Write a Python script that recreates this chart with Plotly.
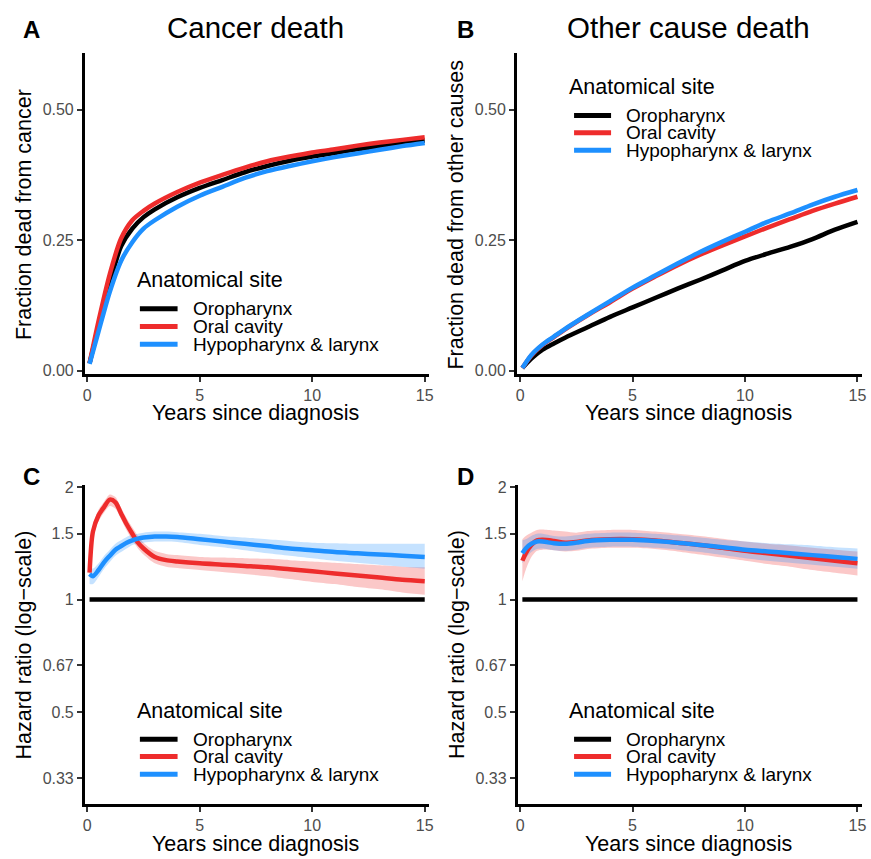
import plotly.graph_objects as go

W, H = 871, 859
FONT = "Liberation Sans, Arial, sans-serif"
BLACK, RED, BLUE = "#000000", "#EE2C2C", "#1E90FF"
RED_FILL, BLUE_FILL = "rgba(238,44,44,0.26)", "rgba(30,144,255,0.26)"

SITES = ["Oropharynx", "Oral cavity", "Hypopharynx & larynx"]
SITE_COLORS = [BLACK, RED, BLUE]

# ---------------- Panel A: cumulative incidence of cancer death ----------------
a_years = [0.1, 0.5, 1, 1.5, 2, 2.5, 3, 4, 5, 6, 7, 8, 9, 10, 11, 12, 13, 14, 15]
a_oro = [0.014, 0.085, 0.168, 0.238, 0.272, 0.294, 0.309, 0.332, 0.350, 0.365, 0.380,
         0.392, 0.402, 0.410, 0.417, 0.424, 0.430, 0.436, 0.441]
a_oral = [0.014, 0.095, 0.185, 0.253, 0.288, 0.306, 0.320, 0.342, 0.360, 0.375, 0.389,
          0.401, 0.410, 0.418, 0.424, 0.431, 0.437, 0.442, 0.447]
a_hypo = [0.013, 0.075, 0.151, 0.210, 0.246, 0.272, 0.288, 0.314, 0.335, 0.352, 0.369,
          0.382, 0.392, 0.401, 0.409, 0.416, 0.423, 0.430, 0.436]

# ---------------- Panel B: cumulative incidence of other cause death ----------------
b_years = [0.1, 0.5, 1, 1.5, 2, 3, 4, 5, 6, 7, 8, 9, 10, 11, 12, 13, 14, 15]
b_oro = [0.005, 0.023, 0.040, 0.052, 0.063, 0.083, 0.103, 0.121, 0.139, 0.157, 0.174,
         0.192, 0.210, 0.224, 0.237, 0.252, 0.270, 0.285]
b_oral = [0.005, 0.029, 0.049, 0.064, 0.079, 0.106, 0.131, 0.157, 0.180, 0.202, 0.222,
          0.240, 0.257, 0.274, 0.290, 0.306, 0.320, 0.333]
b_hypo = [0.005, 0.030, 0.050, 0.065, 0.080, 0.107, 0.133, 0.159, 0.182, 0.205, 0.227,
          0.247, 0.266, 0.285, 0.301, 0.318, 0.333, 0.346]

# ---------------- Panel C: hazard ratio, cancer death ----------------
c_years = [0.1, 0.25, 0.5, 0.75, 1.0, 1.25, 1.5, 1.75, 2.0, 2.25, 2.5, 3, 3.5, 4, 5,
           6, 7, 8, 9, 10, 11, 12, 13, 14, 15]
c_ref_years = [0.1, 15]
c_ref_hr = [1.0, 1.0]
c_oral = [1.18, 1.52, 1.68, 1.77, 1.85, 1.82, 1.70, 1.59, 1.50, 1.42, 1.37, 1.30, 1.275,
          1.265, 1.25, 1.24, 1.23, 1.22, 1.205, 1.19, 1.175, 1.16, 1.145, 1.13, 1.12]
c_oral_lo = [1.13, 1.46, 1.62, 1.71, 1.78, 1.75, 1.64, 1.53, 1.44, 1.37, 1.32, 1.25, 1.225,
             1.215, 1.20, 1.185, 1.17, 1.155, 1.135, 1.115, 1.10, 1.08, 1.065, 1.045, 1.03]
c_oral_hi = [1.23, 1.58, 1.74, 1.83, 1.91, 1.88, 1.76, 1.65, 1.56, 1.48, 1.42, 1.35, 1.325,
             1.315, 1.30, 1.295, 1.29, 1.285, 1.275, 1.265, 1.255, 1.245, 1.235, 1.225, 1.22]
c_hypo = [1.17, 1.155, 1.20, 1.26, 1.31, 1.36, 1.39, 1.42, 1.44, 1.455, 1.465, 1.475, 1.475,
          1.47, 1.45, 1.43, 1.41, 1.39, 1.37, 1.355, 1.34, 1.33, 1.32, 1.31, 1.30]
c_hypo_lo = [1.10, 1.10, 1.15, 1.21, 1.26, 1.31, 1.34, 1.37, 1.40, 1.41, 1.42, 1.43, 1.43,
             1.425, 1.40, 1.38, 1.355, 1.33, 1.31, 1.29, 1.27, 1.255, 1.24, 1.225, 1.21]
c_hypo_hi = [1.25, 1.21, 1.25, 1.31, 1.36, 1.41, 1.44, 1.47, 1.49, 1.50, 1.51, 1.52, 1.52,
             1.515, 1.50, 1.48, 1.465, 1.45, 1.435, 1.42, 1.415, 1.41, 1.41, 1.41, 1.41]

# ---------------- Panel D: hazard ratio, other cause death ----------------
d_years = [0.1, 0.25, 0.5, 0.75, 1, 1.5, 2, 2.5, 3, 4, 5, 6, 7, 8, 9, 10, 11, 12, 13, 14, 15]
d_ref_years = [0.1, 15]
d_ref_hr = [1.0, 1.0]
d_oral = [1.27, 1.33, 1.40, 1.44, 1.445, 1.435, 1.42, 1.425, 1.44, 1.45, 1.45, 1.44, 1.42,
          1.40, 1.375, 1.35, 1.33, 1.31, 1.29, 1.27, 1.25]
d_oral_lo = [1.12, 1.20, 1.30, 1.35, 1.36, 1.355, 1.345, 1.35, 1.365, 1.375, 1.375, 1.365,
             1.345, 1.32, 1.295, 1.27, 1.245, 1.225, 1.20, 1.18, 1.16]
d_oral_hi = [1.45, 1.48, 1.51, 1.535, 1.54, 1.53, 1.52, 1.51, 1.525, 1.535, 1.535, 1.52,
             1.50, 1.48, 1.455, 1.43, 1.41, 1.395, 1.375, 1.36, 1.345]
d_hypo = [1.33, 1.37, 1.41, 1.43, 1.43, 1.415, 1.41, 1.42, 1.435, 1.445, 1.445, 1.435, 1.42,
          1.40, 1.38, 1.36, 1.345, 1.33, 1.315, 1.30, 1.285]
d_hypo_lo = [1.25, 1.29, 1.34, 1.365, 1.37, 1.355, 1.35, 1.36, 1.375, 1.385, 1.385, 1.375,
             1.36, 1.34, 1.315, 1.29, 1.27, 1.255, 1.24, 1.225, 1.21]
d_hypo_hi = [1.44, 1.45, 1.48, 1.50, 1.50, 1.48, 1.475, 1.485, 1.50, 1.51, 1.51, 1.50,
             1.485, 1.465, 1.445, 1.43, 1.415, 1.405, 1.395, 1.38, 1.37]

# tick labels
x_ticks = [0, 5, 10, 15]
ci_ticks = [0.0, 0.25, 0.5]
ci_ticktext = ["0.00", "0.25", "0.50"]
hr_ticks = [1 / 3, 0.5, 2 / 3, 1, 1.5, 2]
hr_ticktext = ["0.33", "0.5", "0.67", "1", "1.5", "2"]


def px_x(p):
    return p / W


def px_y(p):
    return 1 - p / H


fig = go.Figure()
LW = 4.5


def add_line(x, y, color, ax):
    fig.add_trace(go.Scatter(x=x, y=y, mode="lines", line=dict(color=color, width=LW, shape="spline", smoothing=0.8),
                             xaxis="x" + ax, yaxis="y" + ax, showlegend=False, hoverinfo="skip"))


def add_band(x, lo, hi, fill, ax):
    fig.add_trace(go.Scatter(x=x, y=lo, mode="lines", line=dict(width=0, shape="spline", smoothing=0.8),
                             xaxis="x" + ax, yaxis="y" + ax, showlegend=False, hoverinfo="skip"))
    fig.add_trace(go.Scatter(x=x, y=hi, mode="lines", line=dict(width=0, shape="spline", smoothing=0.8),
                             fill="tonexty", fillcolor=fill,
                             xaxis="x" + ax, yaxis="y" + ax, showlegend=False, hoverinfo="skip"))


# Panel A
add_line(a_years, a_oro, BLACK, "")
add_line(a_years, a_oral, RED, "")
add_line(a_years, a_hypo, BLUE, "")
# Panel B
add_line(b_years, b_oro, BLACK, "2")
add_line(b_years, b_oral, RED, "2")
add_line(b_years, b_hypo, BLUE, "2")
# Panel C
add_band(c_years, c_oral_lo, c_oral_hi, RED_FILL, "3")
add_band(c_years, c_hypo_lo, c_hypo_hi, BLUE_FILL, "3")
add_line(c_ref_years, c_ref_hr, BLACK, "3")
add_line(c_years, c_oral, RED, "3")
add_line(c_years, c_hypo, BLUE, "3")
# Panel D
add_band(d_years, d_oral_lo, d_oral_hi, RED_FILL, "4")
add_band(d_years, d_hypo_lo, d_hypo_hi, BLUE_FILL, "4")
add_line(d_ref_years, d_ref_hr, BLACK, "4")
add_line(d_years, d_oral, RED, "4")
add_line(d_years, d_hypo, BLUE, "4")

TICKFONT = dict(family=FONT, size=16, color="#4D4D4D")


def xcfg(dom_px, rng, anchor):
    return dict(domain=[px_x(dom_px[0]), px_x(dom_px[1])], range=rng, anchor=anchor,
                showline=True, linecolor="black", linewidth=2.5, ticks="outside", ticklen=5,
                tickwidth=1.5, tickcolor="#333333", tickvals=x_ticks, tickfont=TICKFONT,
                showgrid=False, zeroline=False, fixedrange=True)


def ycfg(dom_px, rng, anchor, log=False):
    d = dict(domain=[px_y(dom_px[1]), px_y(dom_px[0])], range=rng, anchor=anchor,
             showline=True, linecolor="black", linewidth=2.5, ticks="outside", ticklen=5,
             tickwidth=1.5, tickcolor="#333333", tickfont=TICKFONT,
             showgrid=False, zeroline=False, fixedrange=True)
    if log:
        d.update(type="log", tickvals=hr_ticks, ticktext=hr_ticktext)
    else:
        d.update(tickvals=ci_ticks, ticktext=ci_ticktext)
    return d


ci_range = [-0.0065, 0.6077]
hr_range = [-0.5477, 0.307]

fig.update_layout(
    width=W, height=H, margin=dict(l=0, r=0, t=0, b=0),
    paper_bgcolor="white", plot_bgcolor="white", showlegend=False,
    font=dict(family=FONT, color="black"),
    xaxis=xcfg((83.4, 430), [-0.115, 15.17], "y"),
    yaxis=ycfg((48, 372.75), ci_range, "x"),
    xaxis2=xcfg((519, 866.7), [-0.146, 15.19], "y2"),
    yaxis2=ycfg((48, 372.75), ci_range, "x2"),
    xaxis3=xcfg((83.4, 430), [-0.115, 15.17], "y3"),
    yaxis3=ycfg((485, 808.75), hr_range, "x3", log=True),
    xaxis4=xcfg((519.7, 866.7), [-0.115, 15.19], "y4"),
    yaxis4=ycfg((485, 808.75), hr_range, "x4", log=True),
)

ann = []
shapes = []


def text(x, y, s, size, bold=False, xanchor="center", angle=0, color="black"):
    ann.append(dict(x=px_x(x), y=px_y(y), xref="paper", yref="paper", text=("<b>%s</b>" % s) if bold else s,
                    showarrow=False, xanchor=xanchor, yanchor="middle", textangle=angle,
                    font=dict(family=FONT, size=size, color=color)))


# panel letters & titles
text(30, 24, "A", 24, bold=True)
text(467, 24, "B", 24, bold=True)
text(30, 477, "C", 24, bold=True)
text(467, 477, "D", 24, bold=True)
text(256, 22, "Cancer death", 29.5)
text(692, 22, "Other cause death", 29.5)

# axis titles
text(256, 412.5, "Years since diagnosis", 21.5)
text(692, 412.5, "Years since diagnosis", 21.5)
text(256, 849, "Years since diagnosis", 21.5)
text(692, 849, "Years since diagnosis", 21.5)
text(22, 211, "Fraction dead from cancer", 21.5, angle=-90)
text(458, 211, "Fraction dead from other causes", 21.5, angle=-90)
text(22, 647, "Hazard ratio (log\u2212scale)", 21.5, angle=-90)
text(458, 647, "Hazard ratio (log\u2212scale)", 21.5, angle=-90)


# manual legends
def legend(title_x, title_y, key_x0, key_x1, item_ys, text_x):
    text(title_x, title_y, "Anatomical site", 21.5, xanchor="left")
    for name, col, yy in zip(SITES, SITE_COLORS, item_ys):
        shapes.append(dict(type="line", xref="paper", yref="paper", x0=px_x(key_x0), x1=px_x(key_x1),
                           y0=px_y(yy), y1=px_y(yy), line=dict(color=col, width=5)))
        text(text_x, yy, name, 19, xanchor="left")


legend(134, 278, 139, 177, [306.7, 324.7, 342.7], 191)
legend(570, 82, 576.7, 614, [111, 128.5, 146], 627.5)
legend(134, 714, 139, 177, [742.7, 760.3, 778.3], 191)
legend(570, 714, 576.7, 614, [742.7, 760.3, 778.3], 627.5)

fig.update_layout(annotations=ann, shapes=shapes)

POST = (
    "var gd=document.getElementById('{plot_id}');"
    "gd.style.position='fixed';gd.style.top='0px';gd.style.left='0px';"
    "var de=document.documentElement, b=document.body;"
    "de.style.margin='0';b.style.margin='0';b.style.padding='0';"
    "de.style.height='859px';b.style.height='859px';"
    "de.style.overflow='hidden';b.style.overflow='hidden';"
)
fig.write_html("out.html", config={"responsive": False, "displayModeBar": False}, post_script=POST)
